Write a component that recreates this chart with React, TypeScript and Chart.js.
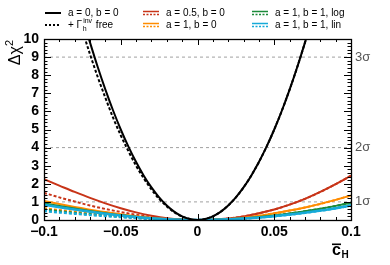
import React, { useEffect, useRef } from "react";
import { Chart, registerables } from "chart.js";
Chart.register(...registerables);

// ---------- data ----------
const xBlack = [-0.08, -0.075, -0.07, -0.065, -0.06, -0.055, -0.05, -0.045, -0.04, -0.035, -0.03, -0.025, -0.02, -0.015, -0.01, -0.005, 0, 0.005, 0.01, 0.015, 0.02, 0.025, 0.03, 0.035, 0.04, 0.045, 0.05, 0.055, 0.06, 0.065, 0.07, 0.075, 0.08];
const blackSolid = [12.8, 11.2, 9.8, 8.45, 7.2, 6.05, 5.0, 4.05, 3.2, 2.45, 1.8, 1.25, 0.8, 0.45, 0.2, 0.05, 0, 0.05, 0.2, 0.45, 0.8, 1.25, 1.8, 2.45, 3.2, 4.05, 5.0, 6.05, 7.2, 8.45, 9.8, 11.2, 12.8];
const blackDotted = [12.0, 10.5, 9.15, 7.9, 6.75, 5.65, 4.68, 3.8, 3.0, 2.3, 1.69, 1.17, 0.75, 0.42, 0.19, 0.05, 0, 0.05, 0.2, 0.45, 0.8, 1.25, 1.8, 2.45, 3.2, 4.05, 5.0, 6.05, 7.2, 8.45, 9.8, 11.2, 12.8];

const xColor = [-0.1, -0.09, -0.08, -0.07, -0.06, -0.05, -0.04, -0.03, -0.02, -0.01, 0, 0.01, 0.02, 0.03, 0.04, 0.05, 0.06, 0.07, 0.08, 0.09, 0.1];
const redSolid = [2.25, 1.9, 1.55, 1.22, 0.92, 0.65, 0.42, 0.24, 0.1, 0.025, 0, 0.02, 0.08, 0.2, 0.37, 0.58, 0.85, 1.17, 1.55, 1.98, 2.45];
const redDotted = [1.5, 1.25, 1.02, 0.8, 0.61, 0.44, 0.29, 0.16, 0.07, 0.02, 0, 0.02, 0.08, 0.2, 0.37, 0.58, 0.85, 1.17, 1.55, 1.98, 2.45];
const orangeSolid = [1.05, 0.88, 0.72, 0.57, 0.44, 0.32, 0.21, 0.12, 0.05, 0.012, 0, 0.012, 0.05, 0.12, 0.23, 0.37, 0.52, 0.69, 0.89, 1.11, 1.36];
const orangeDotted = [0.65, 0.55, 0.46, 0.37, 0.29, 0.21, 0.14, 0.08, 0.035, 0.01, 0, 0.012, 0.05, 0.12, 0.23, 0.37, 0.52, 0.69, 0.89, 1.11, 1.36];
const greenSolid = [0.92, 0.77, 0.63, 0.5, 0.38, 0.27, 0.18, 0.1, 0.045, 0.01, 0, 0.01, 0.04, 0.09, 0.16, 0.25, 0.36, 0.48, 0.62, 0.78, 0.95];
const greenDotted = [0.58, 0.49, 0.4, 0.32, 0.25, 0.18, 0.12, 0.07, 0.03, 0.008, 0, 0.01, 0.04, 0.09, 0.16, 0.25, 0.36, 0.48, 0.62, 0.78, 0.95];
const cyanSolid = [0.85, 0.71, 0.58, 0.46, 0.35, 0.25, 0.16, 0.09, 0.04, 0.01, 0, 0.01, 0.035, 0.08, 0.14, 0.21, 0.3, 0.4, 0.52, 0.65, 0.8];
const cyanDotted = [0.5, 0.42, 0.35, 0.28, 0.22, 0.16, 0.11, 0.06, 0.028, 0.007, 0, 0.01, 0.035, 0.08, 0.14, 0.21, 0.3, 0.4, 0.52, 0.65, 0.8];

const sigmaLevels = [1, 4, 9];
const sigmaLabels = ["1σ", "2σ", "3σ"];
const xTicks = [-0.1, -0.05, 0, 0.05, 0.1];
const xTickLabels = ["\u22120.1", "\u22120.05", "0", "0.05", "0.1"];
const yTicks = [0, 1, 2, 3, 4, 5, 6, 7, 8, 9, 10];
const yTickLabels = ["0", "1", "2", "3", "4", "5", "6", "7", "8", "9", "10"];

const legendLabels = ["a = 0, b = 0", "+ Γ", "a = 0.5, b = 0", "a = 1, b = 0", "a = 1, b = 1, log", "a = 1, b = 1, lin"];

// ---------- style ----------
const FONT = "'Liberation Sans', Arial, Helvetica, sans-serif";
const RED = "#c83418";
const ORANGE = "#ff8c00";
const GREEN = "#1c8a3a";
const CYAN = "#16aad8";
const DOT = [3, 2];

const pts = (xs: number[], ys: number[]) => xs.map((x, i) => ({ x, y: ys[i] }));

const framePlugin = {
  id: "frameTicks",
  afterDraw(chart: any) {
    const { ctx, chartArea } = chart;
    const { left, right, top, bottom } = chartArea;
    const xs = chart.scales.x;
    const ys = chart.scales.y;
    ctx.save();
    ctx.strokeStyle = "#000";
    ctx.lineWidth = 1;
    // ticks x (bottom and top)
    for (let i = -10; i <= 10; i++) {
      const px = Math.round(xs.getPixelForValue(i / 100)) + 0.5;
      const len = i % 5 === 0 ? 6 : 3;
      ctx.beginPath();
      ctx.moveTo(px, bottom);
      ctx.lineTo(px, bottom - len);
      ctx.moveTo(px, top);
      ctx.lineTo(px, top + len);
      ctx.stroke();
    }
    for (let i = 0; i <= 50; i++) {
      const py = Math.round(ys.getPixelForValue(i / 5)) + 0.5;
      const len = i % 5 === 0 ? 7 : 3.5;
      ctx.beginPath();
      ctx.moveTo(left, py);
      ctx.lineTo(left + len, py);
      ctx.moveTo(right, py);
      ctx.lineTo(right - len, py);
      ctx.stroke();
    }
    ctx.lineWidth = 1.3;
    ctx.strokeRect(Math.round(left) + 0.5, Math.round(top) + 0.5, Math.round(right - left), Math.round(bottom - top));

    // y title
    ctx.fillStyle = "#000";
    ctx.save();
    ctx.translate(20, 40);
    ctx.rotate(-Math.PI / 2);
    ctx.textBaseline = "alphabetic";
    ctx.textAlign = "left";
    ctx.font = `16px ${FONT}`;
    const mainT = "Δχ";
    ctx.font = `16px ${FONT}`;
    const w1 = ctx.measureText(mainT).width;
    ctx.font = `11px ${FONT}`;
    const w2 = ctx.measureText("2").width;
    const start = -(w1 + w2);
    ctx.font = `16px ${FONT}`;
    ctx.fillText(mainT, start, 0);
    ctx.font = `11px ${FONT}`;
    ctx.fillText("2", start + w1, -7);
    ctx.restore();

    // x title  c-bar sub H
    ctx.textAlign = "left";
    ctx.textBaseline = "alphabetic";
    ctx.font = `bold 16px ${FONT}`;
    ctx.fillText("c", 332, 255);
    ctx.fillRect(332, 243.5, 9, 1.6);
    ctx.font = `bold 10px ${FONT}`;
    ctx.fillText("H", 341.5, 258);

    // legend
    const rowY = [13, 25];
    const colX = [45, 143, 252];
    const textOff = 23;
    const entries = [
      { col: 0, row: 0, color: "#000", mode: "solid" },
      { col: 0, row: 1, color: "#000", mode: "dot" },
      { col: 1, row: 0, color: RED, mode: "both" },
      { col: 1, row: 1, color: ORANGE, mode: "both" },
      { col: 2, row: 0, color: GREEN, mode: "both" },
      { col: 2, row: 1, color: CYAN, mode: "both" },
    ];
    entries.forEach((e, i) => {
      const x0 = colX[e.col];
      const y0 = rowY[e.row];
      ctx.strokeStyle = e.color;
      if (e.mode === "solid") {
        ctx.setLineDash([]);
        ctx.lineWidth = 2;
        ctx.beginPath(); ctx.moveTo(x0, y0); ctx.lineTo(x0 + 16, y0); ctx.stroke();
      } else if (e.mode === "dot") {
        ctx.setLineDash([2, 2]);
        ctx.lineWidth = 2;
        ctx.beginPath(); ctx.moveTo(x0, y0); ctx.lineTo(x0 + 16, y0); ctx.stroke();
      } else {
        ctx.setLineDash([]);
        ctx.lineWidth = 1.5;
        ctx.beginPath(); ctx.moveTo(x0, y0 - 1.5); ctx.lineTo(x0 + 16, y0 - 1.5); ctx.stroke();
        ctx.setLineDash([2, 1.5]);
        ctx.beginPath(); ctx.moveTo(x0, y0 + 1.5); ctx.lineTo(x0 + 16, y0 + 1.5); ctx.stroke();
      }
      ctx.setLineDash([]);
      ctx.fillStyle = "#000";
      ctx.font = `10px ${FONT}`;
      ctx.textBaseline = "middle";
      const tx = x0 + textOff;
      if (i === 1) {
        ctx.fillText(legendLabels[i], tx, y0);
        const w = ctx.measureText(legendLabels[i]).width;
        ctx.font = `7px ${FONT}`;
        ctx.fillText("inv", tx + w + 1, y0 - 4);
        ctx.fillText("h", tx + w + 0.5, y0 + 4);
        const wi = ctx.measureText("inv").width;
        ctx.font = `10px ${FONT}`;
        ctx.fillText(" free", tx + w + 1 + wi + 1, y0);
      } else {
        ctx.fillText(legendLabels[i], tx, y0);
      }
    });
    ctx.restore();
  },
};

export default function App() {
  const ref = useRef<HTMLCanvasElement | null>(null);
  useEffect(() => {
    if (!ref.current) return;
    const line = (data: any, color: string, width: number, dash: number[] | null) => ({
      data,
      borderColor: color,
      borderWidth: width,
      borderDash: dash || [],
      pointRadius: 0,
      fill: false,
      cubicInterpolationMode: "monotone",
    });
    const sigmaSets = sigmaLevels.map((lv) =>
      line([{ x: -0.1, y: lv }, { x: 0.1, y: lv }], "#a0a0a0", 1, [3, 3])
    );
    const chart = new Chart(ref.current, {
      type: "line",
      data: {
        datasets: [
          line(pts(xBlack, blackSolid), "#000", 2, null),
          line(pts(xColor, cyanSolid), CYAN, 2.5, null),
          line(pts(xColor, greenSolid), GREEN, 2, null),
          line(pts(xColor, orangeSolid), ORANGE, 2, null),
          line(pts(xColor, redSolid), RED, 2, null),
          line(pts(xBlack, blackDotted), "#000", 2, DOT),
          line(pts(xColor, cyanDotted), CYAN, 2.5, DOT),
          line(pts(xColor, greenDotted), GREEN, 2, DOT),
          line(pts(xColor, orangeDotted), ORANGE, 2, DOT),
          line(pts(xColor, redDotted), RED, 2, DOT),
          ...sigmaSets,
        ] as any,
      },
      options: {
        animation: false,
        responsive: false,
        devicePixelRatio: 1,
        layout: { padding: { top: 39, left: 0, right: 0, bottom: 0 } },
        plugins: { legend: { display: false }, tooltip: { enabled: false } },
        scales: {
          x: {
            type: "linear",
            min: -0.1,
            max: 0.1,
            afterBuildTicks: (s: any) => { s.ticks = xTicks.map((v) => ({ value: v })); },
            afterFit: (s: any) => { s.height = 45; },
            ticks: {
              autoSkip: false,
              maxRotation: 0,
              padding: 4,
              color: "#000",
              font: { family: FONT, size: 14, weight: "bold" },
              callback: (_v: any, i: number) => xTickLabels[i],
            },
            grid: { display: false, drawTicks: false },
            border: { display: false },
          },
          y: {
            type: "linear",
            position: "left",
            min: 0,
            max: 10,
            afterBuildTicks: (s: any) => { s.ticks = yTicks.map((v) => ({ value: v })); },
            afterFit: (s: any) => { s.width = 44; },
            ticks: {
              autoSkip: false,
              padding: 5,
              color: "#000",
              font: { family: FONT, size: 14, weight: "bold" },
              callback: (_v: any, i: number) => yTickLabels[i],
            },
            grid: { display: false, drawTicks: false },
            border: { display: false },
          },
          y2: {
            type: "linear",
            position: "right",
            min: 0,
            max: 10,
            afterBuildTicks: (s: any) => { s.ticks = sigmaLevels.map((v) => ({ value: v })); },
            afterFit: (s: any) => { s.width = 39; },
            ticks: {
              autoSkip: false,
              padding: 4,
              color: "#555",
              font: { family: FONT, size: 13 },
              callback: (_v: any, i: number) => sigmaLabels[i],
            },
            grid: { display: false, drawTicks: false },
            border: { display: false },
          },
        },
      } as any,
      plugins: [framePlugin],
    });
    return () => chart.destroy();
  }, []);
  return (
    <div style={{ position: "fixed", left: 0, top: 0, width: 390, height: 265, background: "#fff" }}>
      <canvas ref={ref} width={390} height={265} style={{ display: "block" }} />
    </div>
  );
}
